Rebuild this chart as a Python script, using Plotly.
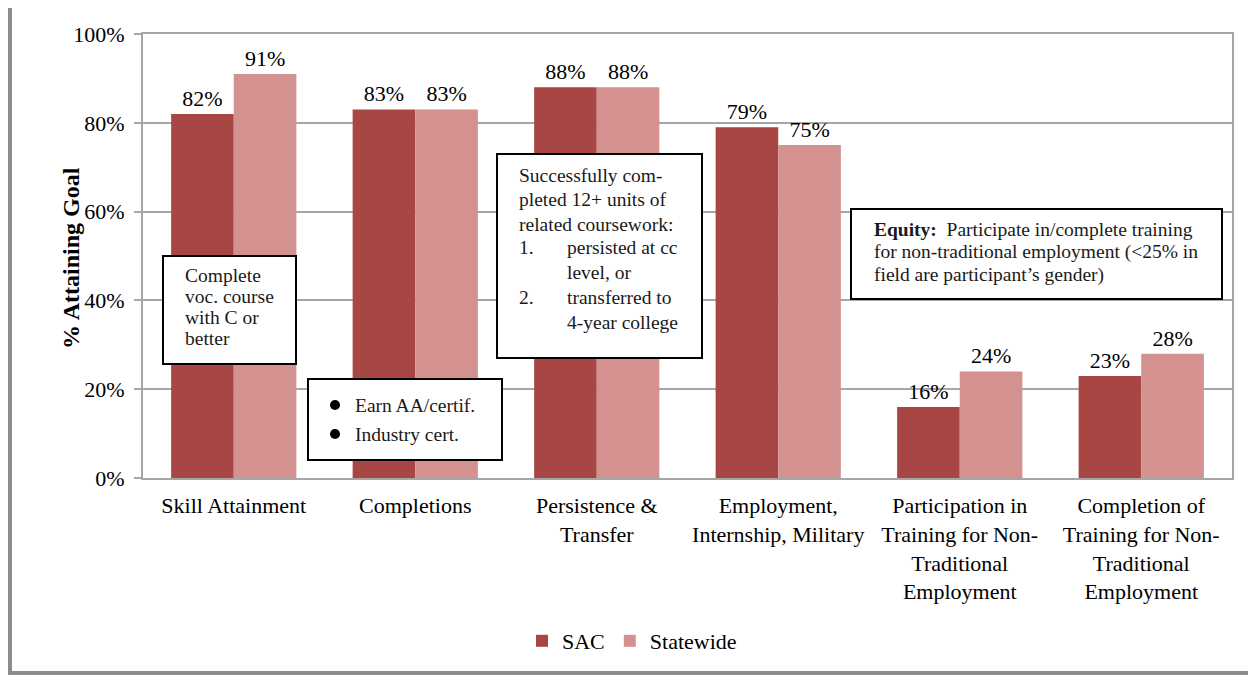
import plotly.graph_objects as go

categories = [
    "Skill Attainment",
    "Completions",
    "Persistence &<br>Transfer",
    "Employment,<br>Internship, Military",
    "Participation in<br>Training for Non-<br>Traditional<br>Employment",
    "Completion of<br>Training for Non-<br>Traditional<br>Employment",
]
sac = [82, 83, 88, 79, 16, 23]
statewide = [91, 83, 88, 75, 24, 28]
y_ticks = [0, 20, 40, 60, 80, 100]
y_tick_labels = ["0%", "20%", "40%", "60%", "80%", "100%"]

SAC_COLOR = "#A84644"
STATE_COLOR = "#D39190"
GRID = "#A6A6A6"
SERIF = "Liberation Serif"

# page body has an 8px margin, so the figure is offset by 8px
OFF = 8
W, H = 1256 - OFF, 675 - OFF
L, R, T, B = 143 - OFF, 24, 34 - OFF, 197
PW, PH = W - L - R, H - T - B


def px_x(x):
    return (x - OFF - L) / PW


def px_y(y):
    return 1 - (y - OFF - T) / PH


fig = go.Figure()
for name, vals, col in [("SAC", sac, SAC_COLOR), ("Statewide", statewide, STATE_COLOR)]:
    fig.add_trace(go.Bar(
        x=categories, y=vals, name=name,
        marker_color=col, marker_line_width=0,
        text=[f"{v}%" for v in vals], textposition="outside",
        textfont=dict(family=SERIF, size=22, color="black"),
        cliponaxis=False,
    ))

# text boxes: rectangles (page pixels) + one annotation per line
boxes = [
    (163, 256, 296, 364),
    (308, 379, 502, 460),
    (497, 154, 702, 358),
    (851, 209, 1222, 299),
]
shapes = []
for x0, y0, x1, y1 in boxes:
    shapes.append(dict(type="rect", xref="paper", yref="paper",
                       x0=px_x(x0), x1=px_x(x1), y0=px_y(y1), y1=px_y(y0),
                       line=dict(color="black", width=2), fillcolor="white",
                       layer="above"))

# bullets in the completions box
for cy in (405, 434):
    shapes.append(dict(type="circle", xref="paper", yref="paper",
                       x0=px_x(330), x1=px_x(340), y0=px_y(cy + 5), y1=px_y(cy - 5),
                       line=dict(width=0), fillcolor="black", layer="above"))

# outer frame
shapes.append(dict(type="rect", xref="paper", yref="paper",
                   x0=px_x(10), x1=px_x(1275), y0=px_y(673), y1=px_y(4),
                   line=dict(color="#8C8C8C", width=4), layer="above"))

note_lines = [
    (183, 275, "Complete"),
    (183, 296, "voc. course"),
    (183, 317, "with C or"),
    (183, 338, "better"),
    (353, 405, "Earn AA/certif."),
    (353, 434, "Industry cert."),
    (517, 175, "Successfully com-"),
    (517, 199, "pleted 12+ units of"),
    (517, 224, "related coursework:"),
    (517, 248, "1."),
    (565, 248, "persisted at cc"),
    (565, 272, "level, or"),
    (517, 297, "2."),
    (565, 297, "transferred to"),
    (565, 322, "4-year college"),
    (872, 229, "<b>Equity:</b>  Participate in/complete training"),
    (872, 252, "for non-traditional employment (&lt;25% in"),
    (872, 275, "field are participant’s gender)"),
]
annotations = []
for x, y, txt in note_lines:
    annotations.append(dict(
        xref="paper", yref="paper", x=px_x(x), y=px_y(y),
        xanchor="left", yanchor="middle", align="left", showarrow=False,
        text=txt, font=dict(family=SERIF, size=19.5, color="#1a1a1a"),
    ))

annotations.append(dict(
    xref="paper", yref="paper", x=px_x(56), y=px_y(258), textangle=-90,
    showarrow=False, text="<b>% Attaining Goal</b>",
    font=dict(family=SERIF, size=24, color="black"),
))

fig.update_layout(
    width=W, height=H,
    margin=dict(l=L, r=R, t=T, b=B),
    barmode="group", bargap=0.31, bargroupgap=0,
    plot_bgcolor="white", paper_bgcolor="white",
    font=dict(family=SERIF, size=22, color="black"),
    showlegend=True,
    legend=dict(orientation="h", x=px_x(632), xanchor="center",
                y=px_y(641), yanchor="middle",
                font=dict(family=SERIF, size=22), itemwidth=30),
    shapes=shapes,
    annotations=annotations,
    xaxis=dict(showline=True, linecolor=GRID, linewidth=2, mirror=True,
               ticks="", ticklabelstandoff=7,
               tickfont=dict(family=SERIF, size=22)),
    yaxis=dict(range=[0, 100], tickvals=y_ticks, ticktext=y_tick_labels,
               showgrid=True, gridcolor=GRID, gridwidth=1.5,
               showline=True, linecolor=GRID, linewidth=2, mirror=True,
               ticks="outside", ticklen=7, tickcolor=GRID, tickwidth=2,
               ticklabelstandoff=5,
               zeroline=False, tickfont=dict(family=SERIF, size=22)),
)

fig.write_html("out.html")
